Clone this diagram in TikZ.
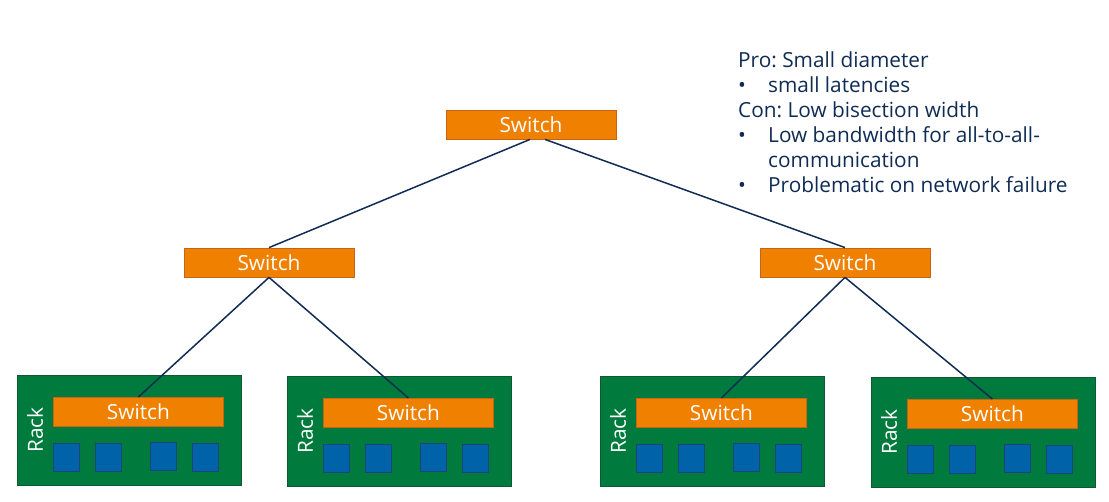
\documentclass[tikz,border=0pt]{standalone}
\usepackage{fontspec}
\setmainfont{Open Sans}
\frenchspacing
\definecolor{navy}{RGB}{16,44,84}
\definecolor{sworange}{RGB}{240,128,0}
\definecolor{sworangeb}{RGB}{200,100,20}
\definecolor{rackgreen}{RGB}{0,122,61}
\definecolor{rackgreenb}{RGB}{10,90,50}
\definecolor{srvblue}{RGB}{0,98,168}
\definecolor{srvblueb}{RGB}{25,70,120}
\begin{document}
\begin{tikzpicture}[x=1pt,y=-1pt,
  sw/.style={draw=sworangeb, line width=0.8pt, fill=sworange, text=white, minimum width=170pt, minimum height=29pt, inner sep=0pt, font=\fontsize{20.8}{24}\selectfont},
  rackbox/.style={draw=rackgreenb, line width=0.8pt, fill=rackgreen, minimum width=224pt, minimum height=110pt, inner sep=0pt},
  srv/.style={draw=srvblueb, line width=0.8pt, fill=srvblue, minimum width=26pt, minimum height=28pt, inner sep=0pt},
  racklbl/.style={text=white, rotate=90, font=\fontsize{20.8}{24}\selectfont, inner sep=0pt},
  link/.style={draw=navy, line width=1.5pt},
  note/.style={anchor=base west, text=navy, inner sep=0pt, font=\fontsize{20.8}{25}\selectfont}]
\useasboundingbox (0,0) rectangle (1109,501);

% top and middle switches
\node[sw] (top) at (531,124.5) {Switch};
\node[sw] (ml) at (269,262.5) {Switch};
\node[sw] (mr) at (845,262.5) {Switch};

% racks
\foreach \n/\x/\y in {1/17/375, 2/287/376, 3/600/376, 4/871/377}{
  \node[rackbox, anchor=north west] (rack\n) at (\x,\y) {};
  \node[sw, anchor=north west] (rs\n) at (\x+36,\y+22) {Switch};
  \node[racklbl] (rl\n) at (\x+18,\y+55) {Rack};
  \node[srv] (s\n a) at (\x+49,\y+82) {};
  \node[srv] (s\n b) at (\x+91.5,\y+82.5) {};
  \node[srv] (s\n c) at (\x+146.5,\y+81.5) {};
  \node[srv] (s\n d) at (\x+188.5,\y+82) {};
}

% links
\draw[link] ([xshift=-1pt]top.south) -- (ml.north);
\draw[link] ([xshift=14pt]top.south) -- (mr.north);
\draw[link] (ml.south) -- (rs1.north);
\draw[link] (ml.south) -- (rs2.north);
\draw[link] (mr.south) -- (rs3.north);
\draw[link] (mr.south) -- (rs4.north);

% notes
\node[note] (n1) at (738,67) {Pro: Small diameter};
\node[note] (b2) at (738,92) {•};
\node[note] (n2) at (768,92) {small latencies};
\node[note] (n3) at (738,117) {Con: Low bisection width};
\node[note] (b4) at (738,142) {•};
\node[note] (n4) at (768,142) {Low bandwidth for all-to-all-};
\node[note] (n5) at (768,167) {communication};
\node[note] (b6) at (738,192) {•};
\node[note] (n6) at (768,192) {Problematic on network failure};
\end{tikzpicture}
\end{document}
